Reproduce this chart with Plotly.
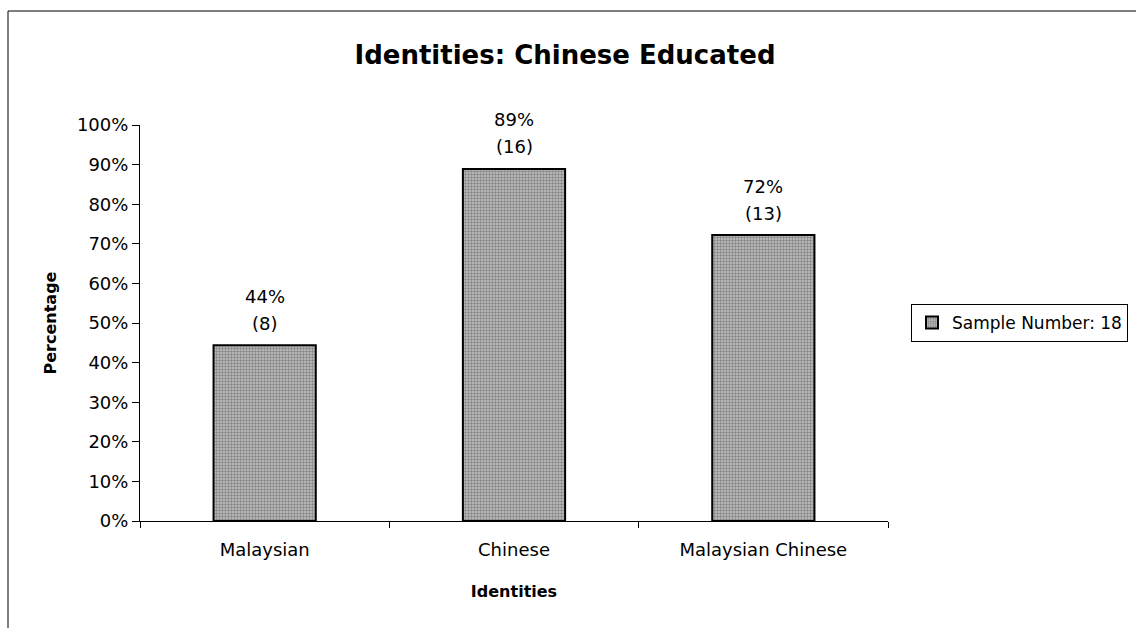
import plotly.graph_objects as go

categories = ["Malaysian", "Chinese", "Malaysian Chinese"]
percentages = [44.4, 88.9, 72.2]
counts = [8, 16, 13]
pct_labels = ["44%", "89%", "72%"]
sample_number = 18
y_ticks = [0, 10, 20, 30, 40, 50, 60, 70, 80, 90, 100]
y_tick_text = [f"{v}%" for v in y_ticks]

FONT = "DejaVu Sans, Verdana, sans-serif"

W, H = 1136, 628
L, R, T, B = 140, 248, 125, 107
pw, ph = W - L - R, H - T - B

def px_x(px):
    return (px - L) / pw

def px_y(py):
    return (H - B - py) / ph

fig = go.Figure()
fig.add_trace(go.Bar(
    x=categories,
    y=percentages,
    name=f"Sample Number: {sample_number}",
    width=0.41,
    marker=dict(
        color="#a0a0a0",
        line=dict(color="black", width=2),
        pattern=dict(shape=".", size=3, solidity=0.5, fgcolor="#444444", bgcolor="#c4c4c4"),
    ),
    showlegend=True,
))

annotations = []
for cat, val, pl, c in zip(categories, percentages, pct_labels, counts):
    annotations.append(dict(x=cat, y=val, xref="x", yref="y", text=f"({c})",
                            showarrow=False, yanchor="middle", yshift=22,
                            font=dict(family=FONT, size=18, color="black")))
    annotations.append(dict(x=cat, y=val, xref="x", yref="y", text=pl,
                            showarrow=False, yanchor="middle", yshift=49,
                            font=dict(family=FONT, size=18, color="black")))

fig.update_layout(
    width=W, height=H,
    margin=dict(l=L, r=R, t=T, b=B, autoexpand=False),
    paper_bgcolor="white",
    plot_bgcolor="white",
    font=dict(family=FONT, size=18, color="black"),
    title=dict(
        text="<b>Identities: Chinese Educated</b>",
        x=565 / W, xref="container", xanchor="center",
        y=1 - 55 / H, yref="container", yanchor="middle",
        font=dict(family=FONT, size=26, color="black"),
    ),
    legend=dict(
        x=px_x(911), xanchor="left",
        y=px_y(323), yanchor="middle",
        bordercolor="black", borderwidth=1,
        bgcolor="white",
        font=dict(family=FONT, size=17, color="black"),
        itemwidth=30,
    ),
    annotations=annotations,
    shapes=[dict(
        type="rect", xref="paper", yref="paper",
        x0=px_x(8), x1=px_x(1145), y0=px_y(640), y1=px_y(11),
        line=dict(color="black", width=1),
    )],
)

fig.update_xaxes(
    title=dict(text="<b>Identities</b>", font=dict(family=FONT, size=16), standoff=27),
    showline=True, linecolor="black", linewidth=1,
    ticks="outside", tickson="boundaries", ticklen=6, tickcolor="black",
    ticklabelstandoff=12,
    tickfont=dict(family=FONT, size=18),
    showgrid=False, zeroline=False,
)
fig.update_yaxes(
    title=dict(text="<b>Percentage</b>", font=dict(family=FONT, size=16), standoff=16),
    range=[0, 100],
    tickvals=y_ticks, ticktext=y_tick_text,
    showline=True, linecolor="black", linewidth=1,
    ticks="outside", ticklen=7, tickcolor="black",
    tickfont=dict(family=FONT, size=18),
    showgrid=False, zeroline=False,
)

fig.write_html("out.html")
